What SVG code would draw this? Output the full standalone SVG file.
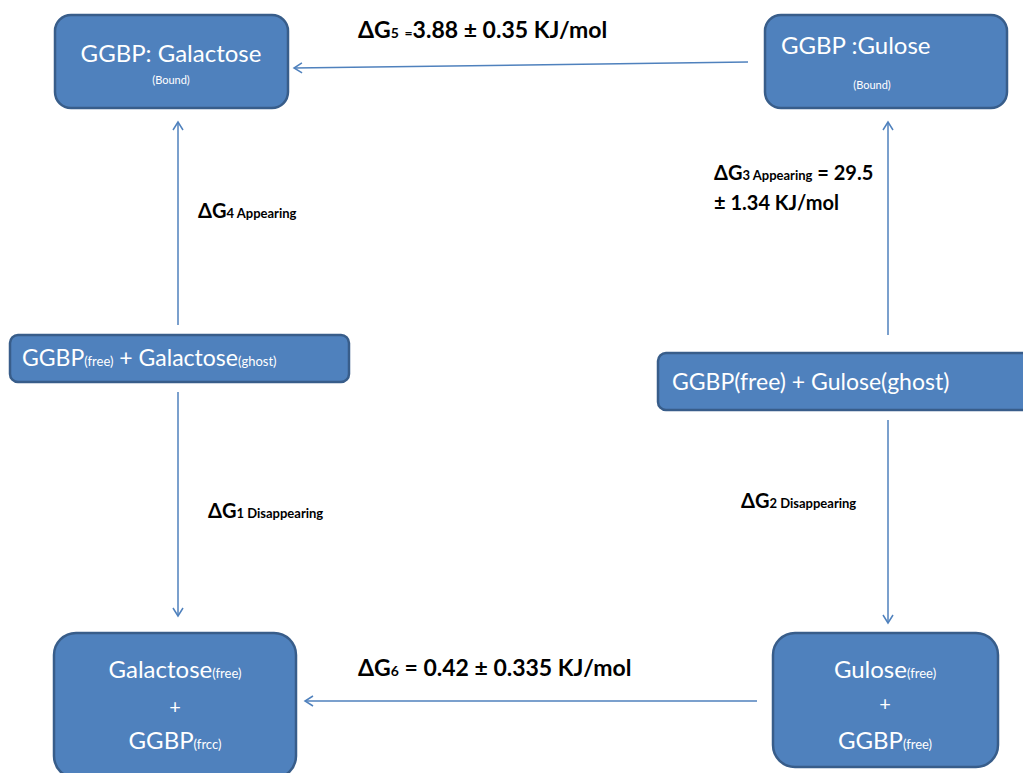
<svg xmlns="http://www.w3.org/2000/svg" width="1023" height="773" viewBox="0 0 1023 773">
<style>
.box{fill:#4f81bd;stroke:#385d8a;stroke-width:2.5}
.wt{fill:#fff;font-family:Lato,"Liberation Sans",Arial,sans-serif}
.lb{fill:#000;font-family:Lato,"Liberation Sans",Arial,sans-serif;font-weight:bold}
.con{stroke:#4f81bd;stroke-width:1.5;fill:none}
</style>
<defs>
<marker id="ah" markerWidth="12" markerHeight="12" refX="10" refY="6" orient="auto" markerUnits="userSpaceOnUse">
<path d="M2,1 L10,6 L2,11" fill="none" stroke="#4f81bd" stroke-width="1.5"/>
</marker>
</defs>
<rect width="1023" height="773" fill="#fff"/>
<g id="connectors">
<path class="con" d="M748,62 L294,68" marker-end="url(#ah)"/>
<path class="con" d="M178,325 L178,122" marker-end="url(#ah)"/>
<path class="con" d="M178,392 L178,616" marker-end="url(#ah)"/>
<path class="con" d="M888,335 L888,122" marker-end="url(#ah)"/>
<path class="con" d="M888,420 L888,623" marker-end="url(#ah)"/>
<path class="con" d="M757,701 L305,701" marker-end="url(#ah)"/>
</g>
<g id="n_ggbp_galactose">
<rect class="box" x="55" y="15" width="233" height="93" rx="16"/>
<text class="wt" x="171" y="62" font-size="24" text-anchor="middle">GGBP: Galactose</text>
<text class="wt" x="171" y="84" font-size="11" text-anchor="middle">(Bound)</text>
</g>
<g id="n_ggbp_gulose">
<rect class="box" x="765" y="15" width="242" height="93" rx="16"/>
<text class="wt" x="781" y="54" font-size="24">GGBP :Gulose</text>
<text class="wt" x="872" y="89" font-size="11" text-anchor="middle">(Bound)</text>
</g>
<g id="n_galactose_ghost">
<rect class="box" x="10" y="335" width="339" height="47" rx="8"/>
<text class="wt" x="22" y="366" font-size="23">GGBP<tspan font-size="13">(free)</tspan> + Galactose<tspan font-size="13">(ghost)</tspan></text>
</g>
<g id="n_gulose_ghost">
<rect class="box" x="658" y="353" width="380" height="57" rx="8"/>
<text class="wt" x="672" y="390" font-size="23">GGBP(free) + Gulose(ghost)</text>
</g>
<g id="n_galactose_free">
<rect class="box" x="54" y="633" width="242" height="145" rx="22"/>
<text class="wt" x="175" y="678" font-size="24" text-anchor="middle">Galactose<tspan font-size="13">(free)</tspan></text>
<text class="wt" x="175" y="714" font-size="20" text-anchor="middle">+</text>
<text class="wt" x="175" y="749" font-size="24" text-anchor="middle">GGBP<tspan font-size="13">(frcc)</tspan></text>
</g>
<g id="n_gulose_free">
<rect class="box" x="773" y="633" width="225" height="134" rx="22"/>
<text class="wt" x="885" y="678" font-size="24" text-anchor="middle">Gulose<tspan font-size="13">(free)</tspan></text>
<text class="wt" x="885" y="711" font-size="20" text-anchor="middle">+</text>
<text class="wt" x="885" y="749" font-size="24" text-anchor="middle">GGBP<tspan font-size="13">(free)</tspan></text>
</g>
<g id="labels">
<text class="lb" x="358" y="38" font-size="23">ΔG<tspan font-size="14">5</tspan> <tspan font-size="14">=</tspan>3.88 ± 0.35 KJ/mol</text>
<text class="lb" x="358" y="676" font-size="23">ΔG<tspan font-size="14">6</tspan> = 0.42 ± 0.335 KJ/mol</text>
<text class="lb" x="714" y="180" font-size="20">ΔG<tspan font-size="13">3 Appearing</tspan> = 29.5</text>
<text class="lb" x="714" y="210" font-size="20">± 1.34 KJ/mol</text>
<text class="lb" x="198" y="218" font-size="20">ΔG<tspan font-size="13">4 Appearing</tspan></text>
<text class="lb" x="208" y="518" font-size="20">ΔG<tspan font-size="13">1 Disappearing</tspan></text>
<text class="lb" x="741" y="508" font-size="20">ΔG<tspan font-size="13">2 Disappearing</tspan></text>
</g>
</svg>
